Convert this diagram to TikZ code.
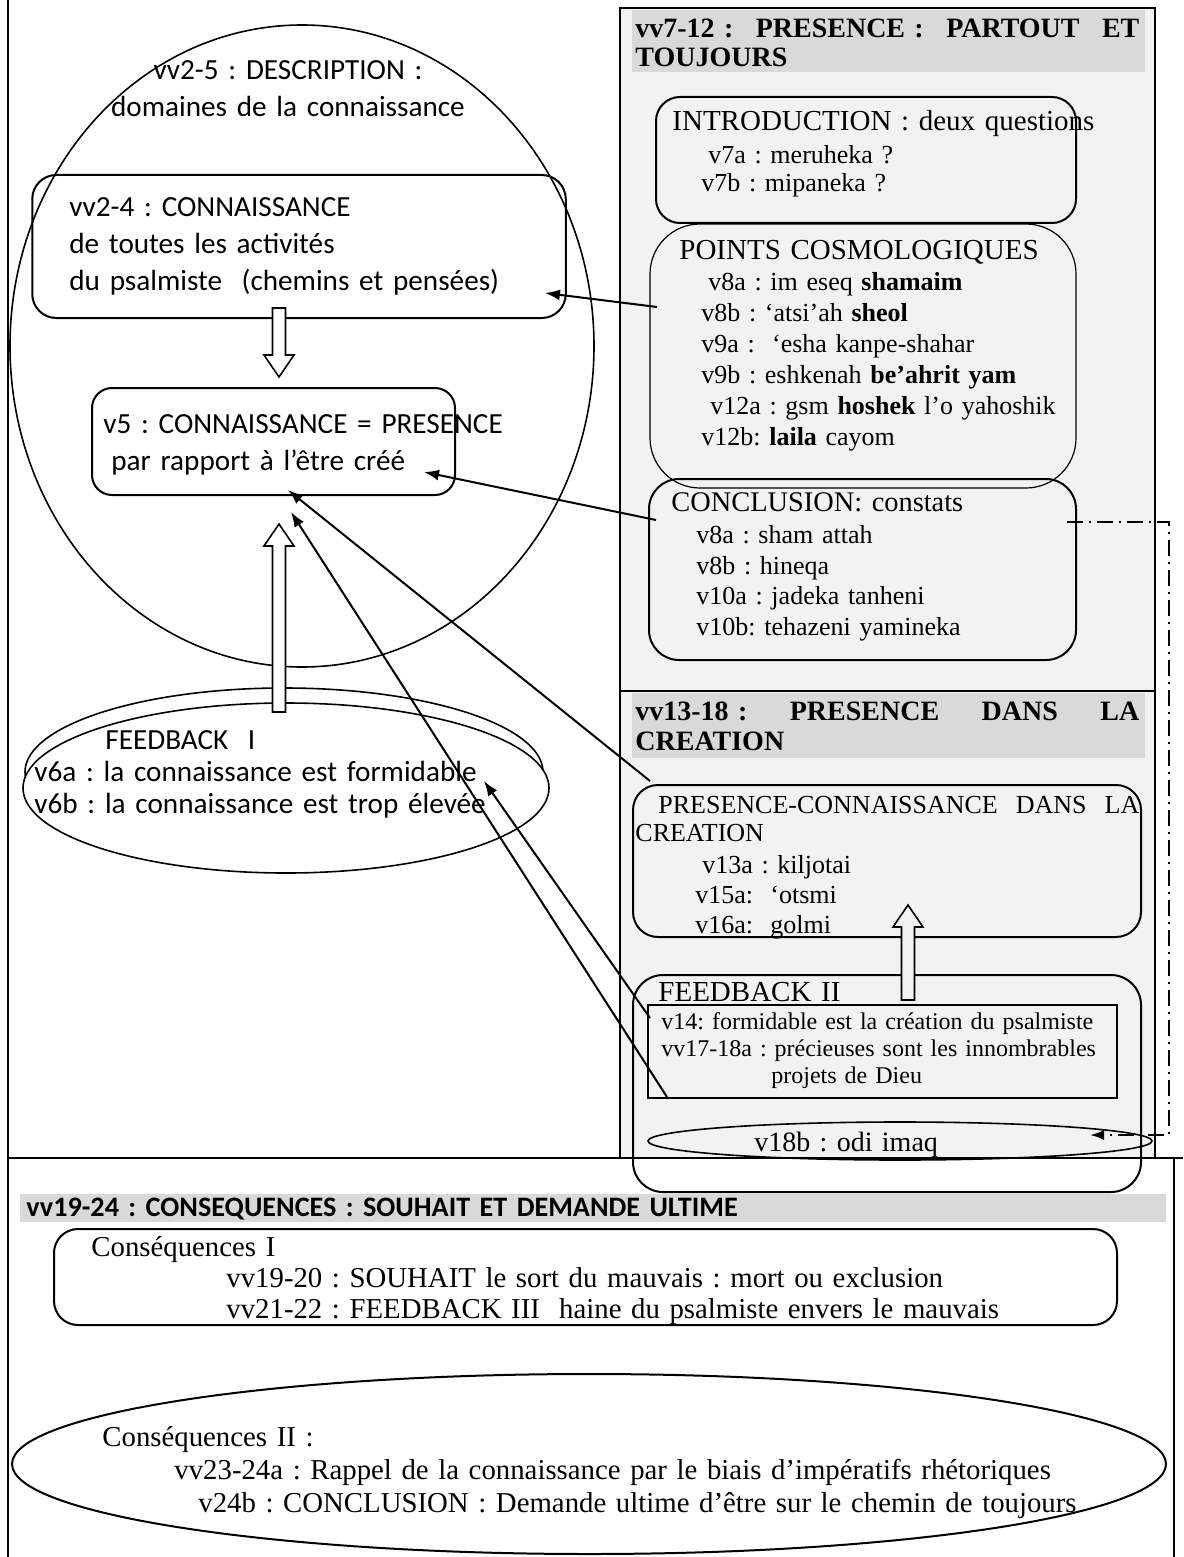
\documentclass[tikz,border=0pt]{standalone}
\usepackage{fontspec}
\setmainfont{Liberation Serif}
\newfontfamily\calibri{Carlito}
\usetikzlibrary{shapes.geometric,arrows.meta}
\frenchspacing
\definecolor{panelgrey}{HTML}{F2F2F2}
\definecolor{bandgrey}{HTML}{D9D9D9}
\tikzset{
	,x = 0.5pt, y = -0.5pt
	,roundbox/.style = {draw=black, line width=1pt, rounded corners=#1, inner sep=0pt}
	,roundbox/.default = 12pt
	,ovalbox/.style  = {ellipse, draw=black, line width=0.8pt, inner sep=0pt}
	,txt/.style      = {anchor=base west, inner sep=0pt, text width=560pt, align=left}
	,sanstxt/.style  = {txt, font=\calibri\fontsize{14.6}{18.5}\selectfont}
	,listtxt/.style  = {txt, font=\fontsize{13}{15.5}\selectfont}
	,titletxt/.style = {txt, font=\fontsize{14.5}{16}\selectfont}
	,headtxt/.style  = {txt, text width=252pt, font=\bfseries\fontsize{14}{14.5}\selectfont}
	,linkarrow/.style = {-{Latex[length=7.5pt,width=5.5pt]}, line width=1pt}
	,dasharrow/.style = {-{Latex[length=7pt,width=5pt]}, line width=1pt, dash pattern=on 8pt off 3pt on 1pt off 3pt}
	,pics/fatarrow/.style 2 args = {code = {
		\draw[line width=0.8pt, fill=#2] (0,0) -- (15,22) -- (6.5,22) -- (6.5,#1)
			-- (-6.5,#1) -- (-6.5,22) -- (-15,22) -- cycle;
	}}
}
\begin{document}
\begin{tikzpicture}
		\useasboundingbox (0,0) rectangle (1183,1557);
		% right panel
		\draw[line width=1.2pt, fill=panelgrey] (620,8) rectangle (1155,1158);
		\draw[line width=1.2pt] (620,691) -- (1155,691);
		\fill[bandgrey] (632,10) rectangle (1145,72);
		\fill[bandgrey] (632,693) rectangle (1145,758);
		\fill[bandgrey] (20,1194) rectangle (1166,1222);
		% frame
		\draw[line width=1pt] (8,0) -- (8,1557);
		\draw[line width=1pt] (8,1158) -- (1183,1158);
		\draw[line width=1pt] (1174,1158) -- (1174,1557);

		% left column
		\node[ovalbox, minimum width=292pt, minimum height=321pt] at (302, 346) (desc) {};
		\node[roundbox] [minimum width=266.75pt, minimum height=71.5pt] at (299, 246.5) (conn) {};
		\node[roundbox=10pt, minimum width=181.5pt, minimum height=53.5pt] at (273.5, 441.5) (pres) {};
		\node[ovalbox, fill=white, minimum width=259pt, minimum height=84pt] at (284, 772) (fbback) {};
		\node[ovalbox, fill=white, minimum width=263pt, minimum height=85pt] at (286, 788) (fbone) {};

		\node[sanstxt, anchor=base, text width=220pt, align=center] at (288, 80) (desctxt) {vv2-5 : DESCRIPTION :\\domaines de la connaissance};
		\node[sanstxt] at (69, 217) (conntxt) {vv2-4 : CONNAISSANCE\\de toutes les activités\\du psalmiste\ \ (chemins et pensées)};
		\node[sanstxt] at (103, 433) (prestxt) {v5 : CONNAISSANCE = PRESENCE\\\hspace*{4pt}par rapport à l’être créé};
		\node[sanstxt, font=\calibri\fontsize{14.6}{16}\selectfont] at (34, 749) (fbonetxt)
			{\hspace*{35.5pt}FEEDBACK\ \ I\\v6a : la connaissance est formidable\\v6b : la connaissance est trop élevée};

		% right column, vv7-12
		\node[headtxt] at (635, 38) (headone) {vv7-12~:\hfill PRESENCE~:\hfill PARTOUT\hfill ET\\TOUJOURS};
		\node[roundbox] [minimum width=210pt, minimum height=63pt] at (866, 160) (intro) {};
		\node[roundbox=25pt, line width=0.6pt, minimum width=213pt, minimum height=132pt] at (863, 356) (cosmo) {};
		\node[roundbox=15pt, minimum width=213.5pt, minimum height=90.5pt] at (862.5, 569.5) (concl) {};

		\node[titletxt] at (672, 131) (introtitle) {INTRODUCTION : deux questions};
		\node[listtxt, font=\fontsize{13}{14}\selectfont] at (701, 164) (introlist) {\hspace*{3.5pt}v7a : meruheka ?\\v7b : mipaneka ?};
		\node[titletxt] at (679, 259.5) (cosmotitle) {POINTS COSMOLOGIQUES};
		\node[listtxt] at (701, 290.6) (cosmolist) {\hspace*{3.5pt}v8a : im eseq \textbf{shamaim}\\v8b : ‘atsi’ah \textbf{sheol}\\v9a :\ \ ‘esha kanpe-shahar\\v9b : eshkenah \textbf{be’ahrit yam}\\\hspace*{4.5pt}v12a : gsm \textbf{hoshek} l’o yahoshik\\v12b: \textbf{laila} cayom};
		\node[titletxt, font=\fontsize{14.2}{16}\selectfont] at (671, 511) (concltitle) {CONCLUSION: constats};
		\node[listtxt, font=\fontsize{13}{15.3}\selectfont] at (696, 543.6) (concllist) {v8a : sham attah\\v8b : hineqa\\v10a : jadeka tanheni\\v10b: tehazeni yamineka};

		% right column, vv13-18
		\node[headtxt, font=\bfseries\fontsize{14}{15}\selectfont] at (635, 720) (headtwo) {vv13-18~:\hfill PRESENCE\hfill DANS\hfill LA\\CREATION};
		\node[roundbox=12.5pt, minimum width=254pt, minimum height=76pt] at (887, 861) (creat) {};
		\node[roundbox=15pt, minimum width=254pt, minimum height=108.5pt] at (887, 1083.5) (fbtwo) {};
		\node[draw, line width=1pt, inner sep=0pt, minimum width=234.5pt, minimum height=46.5pt] at (882.5, 1051.5) (fbrect) {};
		\node[ovalbox, minimum width=252pt, minimum height=19pt] at (900, 1141) (odi) {};

		\node[txt, text width=252pt, font=\fontsize{13}{14}\selectfont] at (635, 813.6) (creattitle) {\hspace*{11.5pt}PRESENCE-CONNAISSANCE\hfill DANS\hfill LA\\CREATION};
		\node[listtxt, font=\fontsize{13}{15}\selectfont] at (695, 873.6) (creatlist) {\hspace*{3.5pt}v13a : kiljotai\\v15a:\ \ ‘otsmi\\v16a:\ \ golmi};
		\node[titletxt] at (658, 1001.6) (fbtwotitle) {FEEDBACK II};
		\node[txt, font=\fontsize{12}{13.5}\selectfont] at (661, 1029) (fbrecttxt) {v14: formidable est la création du psalmiste\\vv17-18a : précieuses sont les innombrables\\\hspace*{55pt}projets de Dieu};
		\node[txt, font=\fontsize{14}{16}\selectfont] at (754, 1151) (oditxt) {v18b : odi imaq};

		% bottom, vv19-24
		\node[txt, font=\calibri\bfseries\fontsize{14.1}{16}\selectfont] at (26, 1216) (headthree) {vv19-24 : CONSEQUENCES : SOUHAIT ET DEMANDE ULTIME};
		\node[roundbox] [minimum width=531.5pt, minimum height=48pt] at (585.5, 1277) (consone) {};
		\node[ovalbox, line width=1pt, minimum width=577pt, minimum height=90pt] at (589, 1464) (constwo) {};
		\node[txt, font=\fontsize{14.4}{15.5}\selectfont] at (91, 1256) (consonetxt) {Conséquences I\\\hspace*{67.5pt}vv19-20 : SOUHAIT le sort du mauvais : mort ou exclusion\\\hspace*{67.5pt}vv21-22 : FEEDBACK III\ \ haine du psalmiste envers le mauvais};
		\node[txt, font=\fontsize{14.4}{16.5}\selectfont] at (102, 1446) (constwotxt) {Conséquences II :\\\hspace*{36pt}vv23-24a : Rappel de la connaissance par le biais d’impératifs rhétoriques\\\hspace*{48pt}v24b : CONCLUSION : Demande ultime d’être sur le chemin de toujours};

		% hollow arrows
		\pic[rotate=180] at (279, 377) {fatarrow={69}{white}};
		\pic at (279, 524) {fatarrow={188}{white}};
		\pic at (908, 905) {fatarrow={95}{panelgrey}};

		% links
		\coordinate (cosmoout) at (657, 307);
		\coordinate (conntip)  at (545, 293);
		\coordinate (conclout) at (656, 520);
		\coordinate (prestipc) at (424, 472);
		\coordinate (creatout) at (650, 781);
		\coordinate (prestipa) at (288, 490);
		\coordinate (rectoutb) at (667, 1097);
		\coordinate (prestipb) at (291, 512);
		\coordinate (rectoutc) at (650, 1018);
		\coordinate (fbonetip) at (484, 781);
		\coordinate (dashout)  at (1067, 522);
		\coordinate (oditip)   at (1090, 1135);
		\draw[linkarrow] (cosmoout) -- (conntip);
		\draw[linkarrow] (conclout) -- (prestipc);
		\draw[linkarrow] (creatout) -- (prestipa);
		\draw[linkarrow] (rectoutb) -- (prestipb);
		\draw[linkarrow] (rectoutc) -- (fbonetip);
		\draw[dasharrow] (dashout) -- (1169, 522) |- (oditip);
	\end{tikzpicture}
\end{document}
